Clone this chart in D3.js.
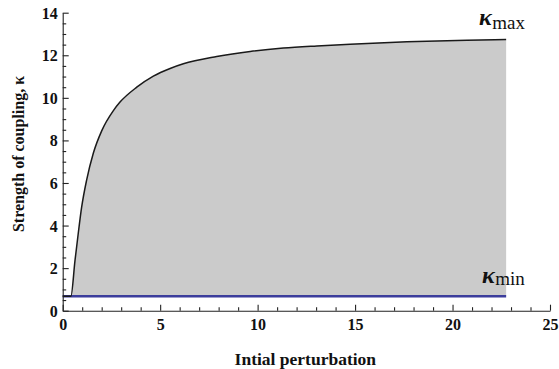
<!DOCTYPE html>
<html>
<head>
<meta charset="utf-8">
<script src="https://cdn.jsdelivr.net/npm/d3@7"></script>
<style>
  html, body { margin: 0; padding: 0; background: #fff; }
  svg { display: block; }
</style>
</head>
<body>
<svg id="chart" width="559" height="369"></svg>
<script>
// Upper bound of the coupling strength versus the initial perturbation
const kmaxX = [0, 0.42, 0.63, 0.80, 0.97, 1.23, 1.57, 2.0, 2.6, 2.94, 3.80, 4.65, 5.51, 6.19, 7.9, 9.62, 11.32, 13.04, 14.75, 17.66, 20.74, 22.75];
const kmaxY = [0.68, 0.68, 2.35, 3.65, 4.85, 6.15, 7.40, 8.45, 9.40, 9.8, 10.5, 11.02, 11.38, 11.6, 11.94, 12.18, 12.34, 12.44, 12.52, 12.63, 12.71, 12.74];
// Lower bound (constant)
const kminValue = 0.68;
const xEnd = 22.75;

const xMajorTicks = [0, 5, 10, 15, 20, 25];
const yMajorTicks = [0, 2, 4, 6, 8, 10, 12, 14];
const xTitle = "Intial perturbation";
const yTitle = "Strength of coupling, \u03BA";

const margin = { left: 62.7, right: 9, top: 12.7, bottom: 58.3 };
const W = 559, H = 369;

const x = d3.scaleLinear().domain([0, 25]).range([margin.left, W - margin.right]);
const y = d3.scaleLinear().domain([0, 14]).range([H - margin.bottom, margin.top]);

const svg = d3.select("#chart");
const serif = "'Liberation Serif', 'Times New Roman', serif";

const pts = kmaxX.map((d, i) => ({ x: d, y: kmaxY[i] }));

// shaded admissible region between the two bounds
const area = d3.area()
  .x(d => x(d.x))
  .y0(() => y(kminValue))
  .y1(d => y(d.y))
  .curve(d3.curveMonotoneX);
svg.append("path").datum(pts)
  .attr("d", area)
  .attr("fill", "#cbcbcb");

// lower bound line
svg.append("line")
  .attr("x1", x(0)).attr("x2", x(xEnd))
  .attr("y1", y(kminValue)).attr("y2", y(kminValue))
  .attr("stroke", "#3c3d9c").attr("stroke-width", 2.6);

// upper bound curve
const line = d3.line().x(d => x(d.x)).y(d => y(d.y)).curve(d3.curveMonotoneX);
svg.append("path").datum(pts)
  .attr("d", line)
  .attr("fill", "none")
  .attr("stroke", "#1a1a1a").attr("stroke-width", 1.5);

// axes: inward ticks, majors and minors
const xMinor = d3.range(0, 25.001, 1).filter(v => !xMajorTicks.includes(v));
const yMinor = d3.range(0, 14.001, 0.5).filter(v => !yMajorTicks.includes(v));

const gx = svg.append("g").attr("transform", `translate(0,${y(0)})`);
gx.call(d3.axisBottom(x).tickValues(xMajorTicks).tickSizeInner(-6).tickSizeOuter(0).tickPadding(8).tickFormat(d3.format("d")));
const gxm = svg.append("g").attr("transform", `translate(0,${y(0)})`);
gxm.call(d3.axisBottom(x).tickValues(xMinor).tickSizeInner(-3.5).tickSizeOuter(0).tickFormat(""));
gxm.select(".domain").remove();

const gy = svg.append("g").attr("transform", `translate(${x(0)},0)`);
gy.call(d3.axisLeft(y).tickValues(yMajorTicks).tickSizeInner(-6).tickSizeOuter(0).tickPadding(5).tickFormat(d3.format("d")));
const gym = svg.append("g").attr("transform", `translate(${x(0)},0)`);
gym.call(d3.axisLeft(y).tickValues(yMinor).tickSizeInner(-3.5).tickSizeOuter(0).tickFormat(""));
gym.select(".domain").remove();

svg.selectAll(".domain").attr("stroke", "#222").attr("stroke-width", 1.1);
svg.selectAll(".tick line").attr("stroke", "#222").attr("stroke-width", 1.1);
svg.selectAll(".tick text")
  .attr("font-family", serif).attr("font-weight", "bold")
  .attr("font-size", 16).attr("fill", "#111");
gy.selectAll(".tick text").attr("dy", "0.34em");

// axis titles
svg.append("text")
  .attr("x", x(12.5) - 1).attr("y", 365)
  .attr("text-anchor", "middle")
  .attr("font-family", serif).attr("font-weight", "bold").attr("font-size", 17.5)
  .attr("fill", "#111")
  .text(xTitle);

svg.append("text")
  .attr("transform", `translate(24,154) rotate(-90)`)
  .attr("text-anchor", "middle")
  .attr("font-family", serif).attr("font-weight", "bold").attr("font-size", 16)
  .attr("fill", "#111")
  .text(yTitle);

// bound labels
function boundLabel(px, py, sub, shift) {
  const t = svg.append("text").attr("x", px).attr("y", py)
    .attr("font-family", serif).attr("fill", "#111");
  t.append("tspan").attr("font-size", 24).attr("font-style", "italic").attr("font-weight", "bold").text("\u03BA");
  t.append("tspan").attr("font-size", 19).attr("dy", shift).attr("dx", 0.5).text(sub);
}
boundLabel(479, 25, "max", 4);
boundLabel(482, 282.5, "min", 2);
</script>
</body>
</html>
